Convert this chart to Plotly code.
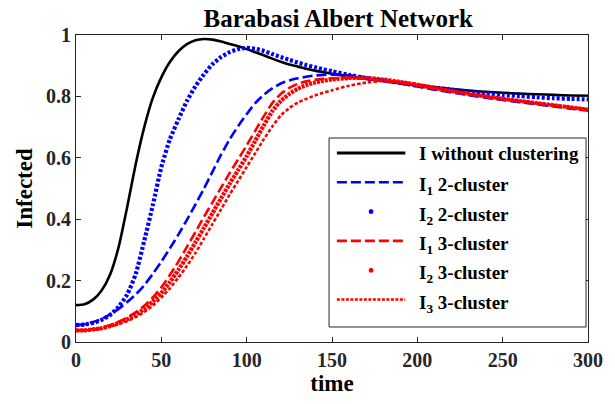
import plotly.graph_objects as go

# time grid (finer during the outbreak, coarser in the tail)
time = [0, 5, 10, 15, 20, 25, 30, 35, 40, 45, 50, 55, 60, 65, 70, 75, 80, 85, 90, 95,
        100, 105, 110, 115, 120, 125, 130, 135, 140, 145, 150,
        160, 170, 180, 190, 200, 210, 220, 230, 240, 250, 260, 270, 280, 290, 300]

i_no_cluster = [0.120, 0.123, 0.138, 0.168, 0.220, 0.310, 0.440, 0.580, 0.700, 0.795,
                0.862, 0.912, 0.947, 0.970, 0.983, 0.987, 0.985, 0.979, 0.971, 0.963,
                0.954, 0.944, 0.934, 0.923, 0.913, 0.904, 0.897, 0.890, 0.884, 0.879, 0.874,
                0.865, 0.857, 0.850, 0.843, 0.836, 0.830, 0.824, 0.819, 0.815, 0.812,
                0.809, 0.807, 0.805, 0.803, 0.802]

i1_two = [0.055, 0.058, 0.065, 0.075, 0.090, 0.108, 0.130, 0.155, 0.185, 0.222,
          0.262, 0.305, 0.350, 0.398, 0.448, 0.500, 0.555, 0.610, 0.660, 0.703,
          0.742, 0.778, 0.805, 0.826, 0.842, 0.852, 0.859, 0.864, 0.868, 0.870, 0.871,
          0.869, 0.862, 0.852, 0.842, 0.832, 0.822, 0.813, 0.804, 0.796, 0.788,
          0.781, 0.774, 0.767, 0.760, 0.754]

i2_two = [0.055, 0.057, 0.062, 0.072, 0.088, 0.115, 0.155, 0.222, 0.330, 0.445,
          0.570, 0.660, 0.725, 0.785, 0.833, 0.872, 0.905, 0.928, 0.944, 0.954,
          0.958, 0.955, 0.948, 0.938, 0.928, 0.919, 0.910, 0.902, 0.895, 0.888, 0.882,
          0.870, 0.860, 0.852, 0.844, 0.836, 0.829, 0.822, 0.816, 0.810, 0.805,
          0.801, 0.797, 0.794, 0.792, 0.790]

i1_three = [0.038, 0.039, 0.042, 0.047, 0.055, 0.066, 0.080, 0.097, 0.118, 0.145,
            0.178, 0.218, 0.262, 0.310, 0.358, 0.408, 0.455, 0.503, 0.550, 0.595,
            0.640, 0.688, 0.735, 0.778, 0.808, 0.828, 0.841, 0.849, 0.854, 0.857, 0.859,
            0.860, 0.858, 0.852, 0.845, 0.836, 0.826, 0.817, 0.808, 0.800, 0.792,
            0.785, 0.778, 0.771, 0.764, 0.757]

i2_three = [0.038, 0.038, 0.041, 0.045, 0.052, 0.062, 0.074, 0.089, 0.108, 0.132,
            0.160, 0.195, 0.235, 0.278, 0.325, 0.372, 0.420, 0.468, 0.515, 0.560,
            0.605, 0.655, 0.705, 0.752, 0.785, 0.808, 0.825, 0.837, 0.845, 0.851, 0.855,
            0.860, 0.860, 0.855, 0.847, 0.838, 0.827, 0.817, 0.808, 0.800, 0.792,
            0.785, 0.778, 0.771, 0.764, 0.757]

i3_three = [0.038, 0.038, 0.040, 0.044, 0.050, 0.058, 0.068, 0.081, 0.098, 0.119,
            0.145, 0.175, 0.210, 0.248, 0.290, 0.337, 0.385, 0.432, 0.480, 0.525,
            0.570, 0.615, 0.660, 0.702, 0.738, 0.762, 0.780, 0.792, 0.803, 0.812, 0.820,
            0.835, 0.845, 0.850, 0.847, 0.839, 0.828, 0.818, 0.809, 0.800, 0.792,
            0.785, 0.778, 0.771, 0.764, 0.757]

FONT = "Liberation Serif"
AXIS_GREY = "#262626"
BLUE = "#0000ff"
RED = "#ff0000"

# figure geometry (pixels)
W, H = 615, 404
M_L, M_R, M_T, M_B = 76, 15, 35, 62
PLOT_W = W - M_L - M_R
PLOT_H = H - M_T - M_B


def px_x(p):
    return (p - M_L) / PLOT_W


def px_y(p):
    return (H - M_B - p) / PLOT_H


fig = go.Figure()

# series: (values, label, colour, width, dash, dotted-marker key?)
series = [
    (i_no_cluster, "I without clustering", "black", 2.6, "solid", False),
    (i1_two, "I<sub>1</sub> 2-cluster", BLUE, 2.6, "10px,4px", False),
    (i2_two, "I<sub>2</sub> 2-cluster", BLUE, 4.2, "3px,2px", True),
    (i1_three, "I<sub>1</sub> 3-cluster", RED, 2.6, "10px,4px", False),
    (i2_three, "I<sub>2</sub> 3-cluster", RED, 4.2, "3px,1px", True),
    (i3_three, "I<sub>3</sub> 3-cluster", RED, 2.6, "3.5px,2px", False),
]

for y, name, color, width, dash, _ in series:
    fig.add_trace(go.Scatter(
        x=time, y=y, mode="lines", name=name, showlegend=False,
        line=dict(color=color, width=width, dash=dash, shape="spline", smoothing=0.6),
    ))

# legend box drawn in paper coordinates
LEG_X0, LEG_X1, LEG_Y0, LEG_Y1 = 335, 598, 138, 327
ROW0, ROW_STEP = 153, 29.3
KEY_X0, KEY_X1, TEXT_X = 343, 413, 425

shapes = [dict(type="rect", xref="paper", yref="paper", layer="above",
               x0=px_x(LEG_X0), x1=px_x(LEG_X1), y0=px_y(LEG_Y1), y1=px_y(LEG_Y0),
               line=dict(color=AXIS_GREY, width=1), fillcolor="white")]
annotations = []
for k, (_, name, color, width, dash, dotted) in enumerate(series):
    ry = ROW0 + k * ROW_STEP
    if dotted:
        cx = (KEY_X0 + KEY_X1) / 2
        shapes.append(dict(type="circle", xref="paper", yref="paper", layer="above",
                           x0=px_x(cx - 2.5), x1=px_x(cx + 2.5),
                           y0=px_y(ry + 2.5), y1=px_y(ry - 2.5),
                           line=dict(width=0), fillcolor=color))
    else:
        shapes.append(dict(type="line", xref="paper", yref="paper", layer="above",
                           x0=px_x(KEY_X0), x1=px_x(KEY_X1), y0=px_y(ry), y1=px_y(ry),
                           line=dict(color=color, width=2.6 if dash != "solid" else 3,
                                     dash=dash if dash != "3.5px,2px" else "3px,1.5px")))
    shift = -4 if "<sub>" in name else 0
    annotations.append(dict(
        x=px_x(TEXT_X), y=px_y(ry), xref="paper", yref="paper", text=name,
        showarrow=False, xanchor="left", yanchor="middle", yshift=shift,
        font=dict(family=FONT, size=19, color="black", weight="bold"),
    ))

axis_common = dict(
    showline=True, linecolor=AXIS_GREY, linewidth=1, mirror="ticks",
    ticks="inside", ticklen=5, tickcolor=AXIS_GREY, showgrid=False, zeroline=False,
    tickfont=dict(family=FONT, size=20, color=AXIS_GREY, weight="bold"),
)
title_font = dict(family=FONT, size=23, color="black", weight="bold")

fig.update_layout(
    width=W, height=H,
    margin=dict(l=M_L, r=M_R, t=M_T, b=M_B),
    paper_bgcolor="white", plot_bgcolor="white",
    title=dict(text="Barabasi Albert Network", x=0.55, xanchor="center", y=0.955,
               yanchor="middle",
               font=dict(family=FONT, size=25, color="black", weight="bold")),
    xaxis=dict(range=[0, 300], dtick=50, tick0=0,
               title=dict(text="time", standoff=2, font=title_font),
               **axis_common),
    yaxis=dict(range=[0, 1], dtick=0.2, tick0=0,
               title=dict(text="Infected", standoff=6, font=title_font),
               **axis_common),
    shapes=shapes,
    annotations=annotations,
    showlegend=False,
)

fig.write_html("out.html")
